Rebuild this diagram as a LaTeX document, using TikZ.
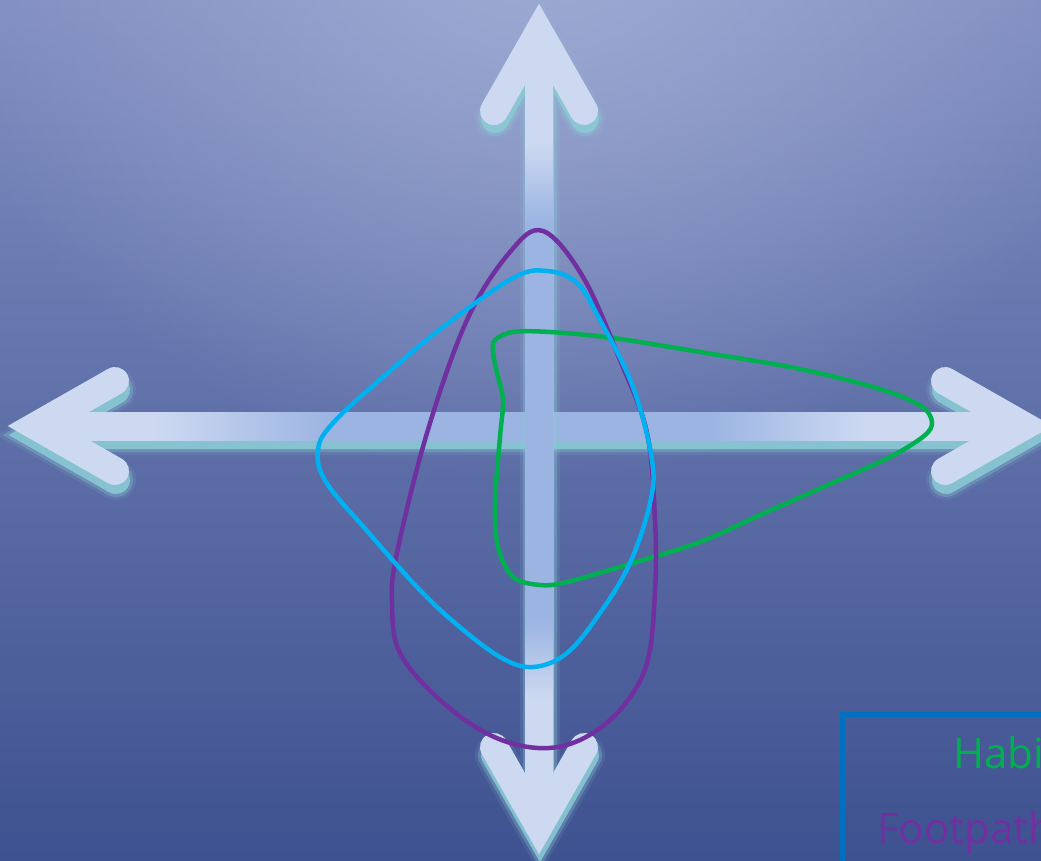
\documentclass[tikz,border=0pt]{standalone}
\usepackage{fontspec}
\setmainfont{Open Sans}
\usetikzlibrary{fadings}
\definecolor{bgtop}{HTML}{7F8DC0}
\definecolor{bgbot}{HTML}{3E5190}
\definecolor{glowc}{HTML}{9FACD4}
\definecolor{axlight}{HTML}{CDD9F1}
\definecolor{axblue}{HTML}{9BB4E2}
\definecolor{shadowc}{HTML}{8CCBD6}
\definecolor{purplec}{HTML}{7030A0}
\definecolor{bluec}{HTML}{00B0F0}
\definecolor{greenc}{HTML}{00B050}
\definecolor{legendc}{HTML}{0070C0}
\pgfdeclarehorizontalshading{hshaft}{100bp}{color(0bp)=(axlight); color(31bp)=(axlight); color(40bp)=(axblue); color(59bp)=(axblue); color(67bp)=(axlight); color(100bp)=(axlight)}
\pgfdeclareverticalshading{vshaft}{100bp}{color(0bp)=(axlight); color(33bp)=(axlight); color(38bp)=(axblue); color(63bp)=(axblue); color(68bp)=(axlight); color(100bp)=(axlight)}
\tikzfading[name=glowfade, inner color=transparent!0, outer color=transparent!100]
\tikzset{
  headline/.style={draw=axlight, line width=28pt, line cap=round, line join=miter},
  shadowline/.style={draw=shadowc, line cap=round, line join=miter},
  loopline/.style={line width=4.5pt},
  legendtext/.style={anchor=base west, inner sep=0pt, font=\fontsize{42}{50}\selectfont}
}
\newcommand\hshadow{%
  \foreach \w/\o in {40/0.12, 34/0.3, 28/0.85}{%
    \draw[shadowline, line width=\w pt, opacity=\o, shift={(1,9)}]
      (36,426) -- (1024,426)
      (115,381) -- (36,426) -- (115,471)
      (945,381) -- (1024,426) -- (945,471);
  }}
\newcommand\vshadow{%
  \foreach \w/\o in {40/0.12, 34/0.3, 28/0.85}{%
    \draw[shadowline, line width=\w pt, opacity=\o, shift={(1,8)}]
      (539,32) -- (539,826)
      (494,111) -- (539,32) -- (584,111)
      (494,747) -- (539,826) -- (584,747);
  }}
\begin{document}
\begin{tikzpicture}[x=1pt,y=-1pt]
\useasboundingbox (0,0) rectangle (1041,861);
\clip (0,0) rectangle (1041,861);
% background
\shade[top color=bgtop, bottom color=bgbot] (0,0) rectangle (1041,861);
\fill[glowc, path fading=glowfade] (539,-80) ellipse [x radius=620, y radius=560];
% horizontal axis
\hshadow
\shade[shading=hshaft] (36,412) rectangle (1024,440);
\draw[headline] (115,381) -- (36,426) -- (115,471);
\draw[headline] (945,381) -- (1024,426) -- (945,471);
% vertical axis
\vshadow
\shade[shading=vshaft] (525,32) rectangle (553,826);
\draw[headline] (494,111) -- (539,32) -- (584,111);
\draw[headline] (494,747) -- (539,826) -- (584,747);
% green loop
\draw[greenc, loopline] plot[smooth cycle, tension=0.55] coordinates {
  (495,340) (513,332) (550,332) (613,338) (700,352) (800,369) (880,389) (921,406) (932,422)
  (924,436) (890,457) (830,484) (760,515) (700,542) (633,563) (567,582) (540,585) (513,577)
  (498,547) (495,503) (500,437) (503,400) (497,373) (493,352)};
% purple loop
\draw[purplec, loopline] plot[smooth cycle, tension=0.6] coordinates {
  (543,231) (583,277) (620,360) (647,433) (655,520) (655,590) (647,663) (620,710)
  (580,740) (538,748) (490,735) (440,700) (400,653) (392,603) (397,553) (427,433)
  (467,320) (510,252)};
% blue loop
\draw[bluec, loopline] plot[smooth cycle, tension=0.6] coordinates {
  (547,271) (513,278) (443,327) (383,377) (333,423) (318,450) (326,482) (368,532)
  (417,587) (455,623) (500,657) (533,667) (567,653) (600,613) (630,563)
  (650,503) (652,460) (633,387) (600,320) (577,283)};
% legend
\draw[legendc, line width=5pt] (842,714) rectangle (1130,930);
\node[legendtext, text=greenc] (habitat) at (953,768) {Habitat};
\node[legendtext, text=purplec] (footpath) at (877,843) {Footpath};
\end{tikzpicture}
\end{document}
